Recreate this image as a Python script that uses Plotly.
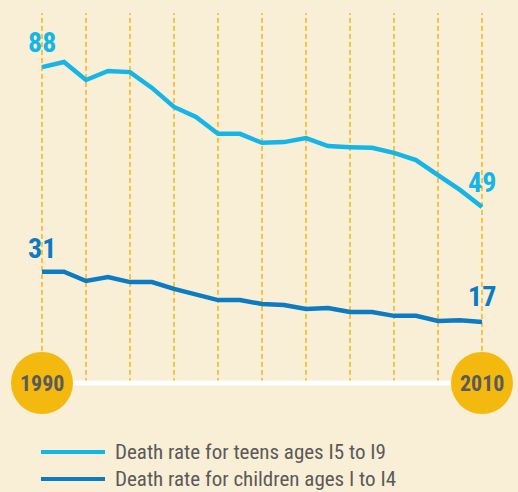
import plotly.graph_objects as go

years = list(range(1990, 2011))
teens = [88, 89.4, 84.4, 86.9, 86.6, 82.2, 76.9, 74.1, 69.4, 69.4, 66.9,
         67.1, 68.2, 66.0, 65.7, 65.5, 64.1, 62.1, 57.9, 53.8, 49]
children = [31, 31, 28.4, 29.5, 28.1, 28.1, 26.2, 24.8, 23.1, 23.1, 22.0,
            21.7, 20.6, 20.9, 19.8, 19.8, 18.7, 18.7, 17.3, 17.5, 17]
series_names = ["Death rate for teens ages I5 to I9",
                "Death rate for children ages I to I4"]
end_years = [1990, 2010]

BG = "#F9EED6"
TEEN = "#14B6E8"
CHILD = "#0B7BC4"
GOLD = "#F3B90F"
GRID = "#F4B81C"
GRAY = "#5A5A5A"
FONT = "Roboto Condensed, Liberation Sans Narrow, DejaVu Sans Condensed, sans-serif"

fig = go.Figure()

shapes = []
# dashed vertical guides every 2 years
for yr in range(1990, 2011, 2):
    shapes.append(dict(type="line", xref="x", yref="y", x0=yr, x1=yr, y0=0, y1=103,
                       line=dict(color=GRID, width=1.5, dash="5px,3px"), layer="below"))
# white baseline
shapes.append(dict(type="line", xref="x", yref="y", x0=1990, x1=2010, y0=0, y1=0,
                   line=dict(color="white", width=5), layer="below"))
# circles at the ends
rx, ry = 31 / 22, 31 / 3.59
for yr in end_years:
    shapes.append(dict(type="circle", xref="x", yref="y", x0=yr - rx, x1=yr + rx,
                       y0=-ry, y1=ry, fillcolor=GOLD, line=dict(width=0), layer="below"))

fig.add_trace(go.Scatter(x=years, y=teens, mode="lines", name=series_names[0],
                         line=dict(color=TEEN, width=4.5), showlegend=False))
fig.add_trace(go.Scatter(x=years, y=children, mode="lines", name=series_names[1],
                         line=dict(color=CHILD, width=4.5), showlegend=False))

annotations = []
for yr in end_years:
    annotations.append(dict(x=yr, y=0, xref="x", yref="y", text=f"<b>{yr}</b>",
                            showarrow=False, font=dict(family=FONT, size=22, color=GRAY)))

# end labels
annotations += [
    dict(x=years[0], y=teens[0], yshift=25, text=f"<b>{teens[0]:.0f}</b>"),
    dict(x=years[-1], y=teens[-1], yshift=25, text=f"<b>{teens[-1]:.0f}</b>"),
    dict(x=years[0], y=children[0], yshift=23, text=f"<b>{children[0]:.0f}</b>"),
    dict(x=years[-1], y=children[-1], yshift=25, text=f"<b>{children[-1]:.0f}</b>"),
]
colors = [TEEN, TEEN, CHILD, CHILD]
for a, c in zip(annotations[2:], colors):
    a.update(xref="x", yref="y", showarrow=False, font=dict(family=FONT, size=28, color=c))

# custom legend
leg_y = [452, 479]
for name, c, py in zip(series_names, [TEEN, CHILD], leg_y):
    yy = 1 - py / 492
    shapes.append(dict(type="line", xref="paper", yref="paper", x0=41 / 518, x1=105 / 518,
                       y0=yy, y1=yy, line=dict(color=c, width=4)))
    annotations.append(dict(xref="paper", yref="paper", x=113 / 518, y=yy, xanchor="left",
                            yanchor="middle", text=name, showarrow=False,
                            font=dict(family=FONT, size=21, color=GRAY)))

fig.update_layout(
    width=518, height=492,
    margin=dict(l=0, r=0, t=0, b=0),
    paper_bgcolor=BG, plot_bgcolor=BG,
    xaxis=dict(range=[1990 - 42 / 22, 1990 + 476 / 22], visible=False, fixedrange=True),
    yaxis=dict(range=[(383 - 492) / 3.59, 383 / 3.59], visible=False, fixedrange=True),
    shapes=shapes, annotations=annotations,
)

fig.write_html("out.html", config={"displayModeBar": False},
               post_script="document.body.style.margin='0';document.body.style.background='%s';" % BG)
